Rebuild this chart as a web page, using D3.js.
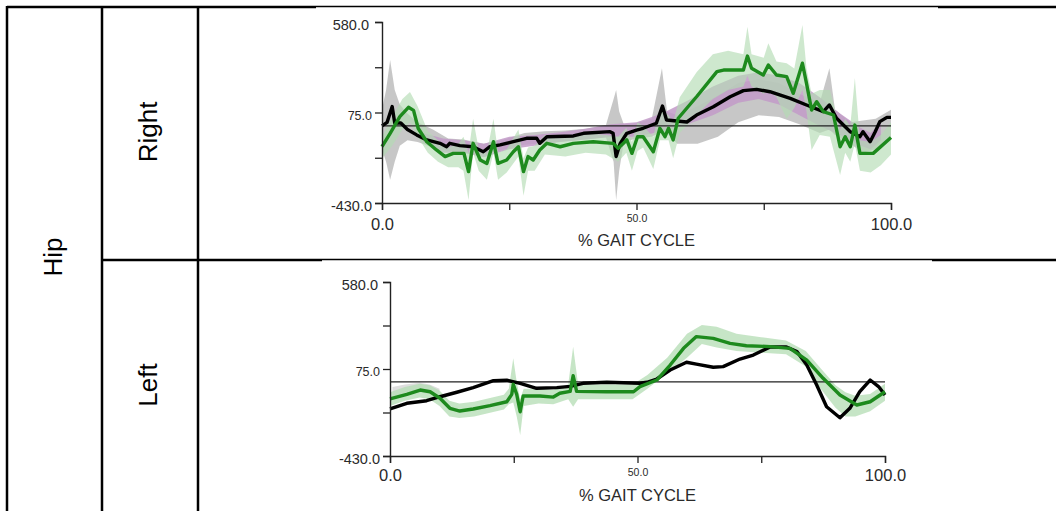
<!DOCTYPE html>
<html>
<head>
<meta charset="utf-8">
<script src="https://cdn.jsdelivr.net/npm/d3@7"></script>
<style>
  html, body { margin: 0; padding: 0; background: #fff; }
  svg { display: block; }
  text { font-family: "Liberation Sans", Arial, sans-serif; }
</style>
</head>
<body>
<svg id="sheet" width="1056" height="511"></svg>
<script>
// ---- Axis ticks and labels (% gait cycle vs. hip moment/power units) ----
const xTicks = [0, 25, 50, 75, 100];
const xTickLabels = ["0.0", "", "50.0", "", "100.0"];
const yTicks = [-430, -177.5, 75, 327.5, 580];
const yTickLabels = ["-430.0", "", "75.0", "", "580.0"];
const rowLabels = ["Right", "Left"];
const jointLabel = "Hip";
const xTitle = "% GAIT CYCLE";

// ---- Right hip: mean curves [percent, value] ----
const rightBlack = [
  [0, 0], [1.0, 20], [2.0, 108], [2.5, 16], [3.7, 16], [5.0, -20], [6.8, -50], [8.8, -78],
  [11.4, -97], [12.7, -116], [13.3, -97], [15.3, -110], [17.9, -116], [19.9, -144],
  [21.2, -116], [23.2, -106], [25.8, -88], [28.4, -69], [30.4, -69], [31.0, -97],
  [32.4, -60], [37.6, -56], [39.6, -41], [44.8, -32], [45.4, -41], [46.0, -171],
  [46.8, -97], [48.1, -41], [50.0, -23], [51.3, -13], [53.9, 15], [55.1, 111],
  [55.9, 33], [59.9, 22], [61.8, 61], [65.1, 107], [68.4, 163], [71.0, 197],
  [73.6, 204], [76.2, 191], [80.2, 154], [83.4, 117], [86.7, 80], [87.9, 117],
  [89.3, 43], [92.0, -32], [93.9, -60], [94.5, -32], [95.9, -88], [96.9, -32],
  [97.8, 24], [99.2, 48], [100, 48]
];
const rightGreen = [
  [0, -116], [1.6, -41], [3.5, 52], [5.2, 104], [6.2, 87], [7.1, -13], [8.8, -88],
  [10.7, -134], [12.4, -171], [14.0, -153], [16.1, -153], [17.0, -255], [17.9, -97],
  [19.3, -190], [20.6, -209], [21.9, -88], [22.8, -209], [24.5, -190], [25.8, -144],
  [26.8, -116], [27.8, -255], [28.7, -171], [29.7, -190], [31.0, -134], [32.4, -97],
  [35.0, -116], [37.6, -97], [41.5, -88], [45.4, -97], [46.4, -125], [48.1, -78],
  [49.1, -153], [50.2, -60], [51.3, -60], [53.3, -144], [54.6, -13], [55.6, -60],
  [56.3, -13], [57.2, -78], [58.2, 43], [61.8, 163], [65.8, 303], [67.1, 312],
  [71.0, 312], [71.8, 390], [72.6, 322], [74.9, 284], [75.9, 340], [77.5, 284],
  [79.5, 275], [80.8, 182], [81.4, 238], [82.6, 350], [83.4, 238], [84.4, 89],
  [85.4, 135], [86.7, 80], [88.7, 61], [90.0, -116], [91.0, -60], [92.0, -116],
  [92.9, 5], [93.9, -153], [96.5, -153], [100, -64]
];
// Right hip: variability bands [percent, low, high]
const rightGrayBand = [
  [0, -130, 90], [0.8, -200, 200], [1.6, -300, 368], [2.5, -200, 200], [3.5, -110, 120],
  [5, -80, 70], [7, -90, 20], [10, -120, -20], [13, -140, -70], [16, -145, -75],
  [20, -165, -100], [24, -130, -75], [28, -105, -40], [32, -95, -30], [36, -85, -25],
  [40, -75, -15], [44, -65, 5], [45.5, -200, 150], [46, -413, 200], [46.6, -250, 80],
  [47.5, -90, 10], [50, -70, 15], [53, -60, 40], [55, -30, 322], [56, -40, 80],
  [58, -100, 60], [62, -100, 110], [66, -60, 170], [70, 20, 240], [74, 60, 260],
  [78, 50, 240], [82, 10, 180], [86, -40, 130], [87.9, -20, 322], [89, -50, 90],
  [92, -100, 20], [94.5, -150, 30], [97, -130, 40], [100, -60, 90]
];
const rightPurpleBand = [
  [8, -90, -40], [12, -150, -70], [16, -150, -80], [20, -175, -100], [25, -130, -60],
  [30, -110, -50], [35, -90, -35], [40, -75, -15], [45, -60, 10], [50, -60, 20],
  [55, -30, 70], [60, 10, 140], [65, 60, 220], [70, 130, 280], [74, 150, 300],
  [78, 120, 280], [82, 60, 240], [86, 0, 160], [90, -50, 70], [94, -110, -10],
  [96, -130, -40], [98, -80, 20]
];
const rightGreenBand = [
  [0, -180, -60], [2, -110, 50], [4, -20, 150], [5.5, 20, 190], [7, -60, 110],
  [9, -150, -30], [11, -200, -80], [13, -230, -120], [15, -230, -100], [16, -250, -60],
  [17, -413, -150], [17.9, -150, 40], [19, -250, -130], [20.6, -300, -150],
  [21.9, -150, 40], [22.8, -300, -150], [24.5, -260, -130], [26.8, -170, -20],
  [27.8, -390, -180], [28.7, -250, -120], [30, -250, -110], [32, -160, -50],
  [36, -170, -60], [40, -150, -40], [44, -160, -50], [46.4, -200, -60], [48, -150, -10],
  [49.1, -250, -90], [50.2, -140, 20], [51.3, -120, 0], [53.3, -240, -60],
  [54.6, -80, 100], [56.3, -80, 60], [57.2, -180, 20], [58.5, -40, 160], [61.8, 60, 300],
  [65, 150, 400], [68, 200, 420], [71, 220, 400], [71.8, 280, 554], [72.6, 220, 400],
  [75, 180, 380], [75.9, 200, 461], [77.5, 160, 360], [79.5, 40, 350], [81, 100, 320],
  [82.6, 200, 563], [83.4, 80, 320], [84.4, -134, 180], [86, -50, 200], [88, -60, 200],
  [90, -274, -20], [91, -150, 40], [92, -200, 0], [92.9, -100, 267], [93.9, -250, -80],
  [96, -260, -90], [98, -220, -50], [100, -160, 20]
];

// ---- Left hip: mean curves [percent, value] ----
const leftBlack = [
  [0, -157], [3.4, -124], [7.4, -109], [10.1, -86], [13.5, -60], [16.8, -33],
  [20.9, 7], [23.6, 10], [26.3, -8], [29.6, -37], [33.7, -33], [36.4, -26],
  [39.0, -8], [43.8, -2], [50.5, -8], [51.9, -2], [53.9, 17], [56.6, 69],
  [59.9, 114], [61.9, 103], [65.3, 85], [67.3, 89], [70.7, 133], [73.4, 156],
  [76.8, 203], [80.1, 203], [82.2, 176], [84.2, 98], [86.2, -18], [88.2, -144],
  [90.9, -208], [92.9, -153], [94.9, -57], [97.0, 11], [98.7, -27], [100, -76]
];
const leftGreen = [
  [0, -99], [3.4, -72], [6.1, -47], [8.1, -57], [10.1, -95], [12.1, -153],
  [14.1, -169], [16.8, -157], [20.2, -138], [23.6, -115], [24.6, -72], [24.9, -14],
  [25.6, -72], [26.3, -173], [26.9, -82], [30.3, -82], [33.0, -88], [34.3, -66],
  [36.4, -55], [37.0, 36], [37.7, -55], [43.8, -57], [49.2, -57], [50.5, -27],
  [53.9, 11], [56.6, 98], [59.3, 195], [61.9, 263], [65.3, 253], [68.7, 224],
  [72.0, 210], [76.8, 205], [80.8, 195], [84.2, 127], [87.5, 21], [90.9, -76],
  [94.3, -134], [97.0, -115], [100, -57]
];
// Left hip: variability bands [percent, low, high]
const leftGrayBand = [
  [0.5, -95, -30], [3, -80, -15], [6, -60, -5], [8, -70, -15], [10, -100, -40]
];
const leftGreenBand = [
  [0, -140, -60], [3, -110, -30], [6, -90, -10], [8, -100, -20], [10, -140, -50],
  [12, -200, -110], [14, -210, -125], [17, -200, -115], [20, -180, -95], [23, -160, -75],
  [24, -130, -40], [24.9, -120, 137], [25.6, -200, 0], [26.3, -308, -100], [27, -140, -40],
  [30, -125, -40], [33, -130, -45], [36, -100, -15], [37, -144, 204], [38, -100, -15],
  [44, -100, -15], [49, -100, -15], [52, -40, 40], [56, 50, 140], [60, 140, 280],
  [63, 220, 330], [66, 200, 320], [70, 180, 280], [75, 170, 260], [80, 160, 240],
  [84, 90, 180], [87, -40, 80], [90, -150, -20], [92, -200, -60], [94, -200, -80],
  [97, -170, -70], [100, -110, -10]
];

const svg = d3.select("#sheet");

// ---- Table grid ----
const grid = svg.append("g").attr("stroke", "#000").attr("fill", "none");
const thick = 2.5, thin = 1.4;
const gridLines = [
  // [x1, y1, x2, y2, width]
  [7, 7, 316, 7, thick], [316, 6.5, 938, 6.5, thin], [938, 7, 1056, 7, thick],
  [102, 260, 322, 260, thick], [322, 259.5, 932, 259.5, thin], [932, 260, 1056, 260, thick],
  [7, 6, 7, 511, thick], [102, 6, 102, 511, thick], [198, 6, 198, 511, thick]
];
grid.selectAll("line").data(gridLines).join("line")
  .attr("x1", d => d[0]).attr("y1", d => d[1])
  .attr("x2", d => d[2]).attr("y2", d => d[3])
  .attr("stroke-width", d => d[4]);

// Row / joint labels, rotated like the table cells
const cellLabels = [
  { text: jointLabel, x: 62, y: 257 },
  { text: rowLabels[0], x: 157, y: 132 },
  { text: rowLabels[1], x: 157, y: 385 }
];
svg.append("g").selectAll("text").data(cellLabels).join("text")
  .attr("transform", d => `translate(${d.x},${d.y}) rotate(-90)`)
  .attr("text-anchor", "middle")
  .attr("font-size", 26)
  .attr("fill", "#000")
  .text(d => d.text);

// ---- Panels ----
const panels = [
  {
    left: 382, right: 891, top: 22, bottom: 203,
    bands: [
      { data: rightGrayBand, fill: "#bdbdbd", opacity: 0.85 },
      { data: rightPurpleBand, fill: "#c29ac8", opacity: 0.85 },
      { data: rightGreenBand, fill: "#b3dcb3", opacity: 0.65 }
    ],
    black: rightBlack, green: rightGreen,
    yLabelDx: { "580.0": -13, "75.0": -10, "-430.0": -10 },
    xLabelY: 21, x50Y: 15, titleY: 37
  },
  {
    left: 390, right: 885, top: 282, bottom: 456,
    bands: [
      { data: leftGrayBand, fill: "#d6d6d6", opacity: 0.8 },
      { data: leftGreenBand, fill: "#b3dcb3", opacity: 0.75 }
    ],
    black: leftBlack, green: leftGreen,
    yLabelDx: { "580.0": -12, "75.0": -10, "-430.0": -10 },
    xLabelY: 19, x50Y: 16, titleY: 39
  }
];

const yFont = { "580.0": 14.5, "75.0": 12.5, "-430.0": 14.5 };

panels.forEach(p => {
  const x = d3.scaleLinear().domain([0, 100]).range([p.left, p.right]);
  const y = d3.scaleLinear().domain([-430, 580]).range([p.bottom, p.top]);
  const g = svg.append("g");

  // variability bands
  p.bands.forEach(b => {
    const area = d3.area()
      .x(d => x(d[0])).y0(d => y(d[1])).y1(d => y(d[2]));
    g.append("path").datum(b.data)
      .attr("d", area)
      .attr("fill", b.fill)
      .attr("fill-opacity", b.opacity);
  });

  // zero reference line
  g.append("line")
    .attr("x1", x(0)).attr("x2", x(100))
    .attr("y1", y(0)).attr("y2", y(0))
    .attr("stroke", "#222").attr("stroke-width", 1.3);

  const line = d3.line().x(d => x(d[0])).y(d => y(d[1]));
  g.append("path").datum(p.black).attr("d", line)
    .attr("fill", "none").attr("stroke", "#000")
    .attr("stroke-width", 3.4).attr("stroke-linejoin", "round");
  g.append("path").datum(p.green).attr("d", line)
    .attr("fill", "none").attr("stroke", "#1d8a1d")
    .attr("stroke-width", 3.4).attr("stroke-linejoin", "round");

  // y axis
  const yAxis = d3.axisLeft(y).tickValues(yTicks).tickSize(7)
    .tickFormat((d, i) => yTickLabels[i]);
  const ya = g.append("g").attr("transform", `translate(${p.left},0)`).call(yAxis);
  ya.select(".domain").attr("stroke", "#222").attr("stroke-width", 1.4);
  ya.selectAll(".tick line").attr("stroke", "#222").attr("stroke-width", 1.3);
  ya.selectAll(".tick text")
    .attr("font-family", "Liberation Sans, Arial, sans-serif")
    .attr("fill", "#2a2a2a")
    .attr("x", function () { return p.yLabelDx[this.textContent] || -10; })
    .attr("dy", "0.55em")
    .attr("font-size", function () { return yFont[this.textContent] || 12; });

  // x axis
  const xAxis = d3.axisBottom(x).tickValues(xTicks).tickSize(7)
    .tickFormat((d, i) => xTickLabels[i]);
  const xa = g.append("g").attr("transform", `translate(0,${p.bottom})`).call(xAxis);
  xa.select(".domain").attr("stroke", "#222").attr("stroke-width", 1.4);
  xa.selectAll(".tick line").attr("stroke", "#222").attr("stroke-width", 1.3);
  xa.selectAll(".tick text")
    .attr("font-family", "Liberation Sans, Arial, sans-serif")
    .attr("fill", "#2a2a2a")
    .attr("y", function () { return this.textContent === "50.0" ? p.x50Y : p.xLabelY; })
    .attr("dy", "0.35em")
    .attr("font-size", function () { return this.textContent === "50.0" ? 10.5 : 16.5; });

  // x title
  g.append("text")
    .attr("x", x(50)).attr("y", p.bottom + p.titleY)
    .attr("text-anchor", "middle")
    .attr("dy", "0.35em")
    .attr("font-size", 16.5)
    .attr("fill", "#2a2a2a")
    .text(xTitle);
});
</script>
</body>
</html>
